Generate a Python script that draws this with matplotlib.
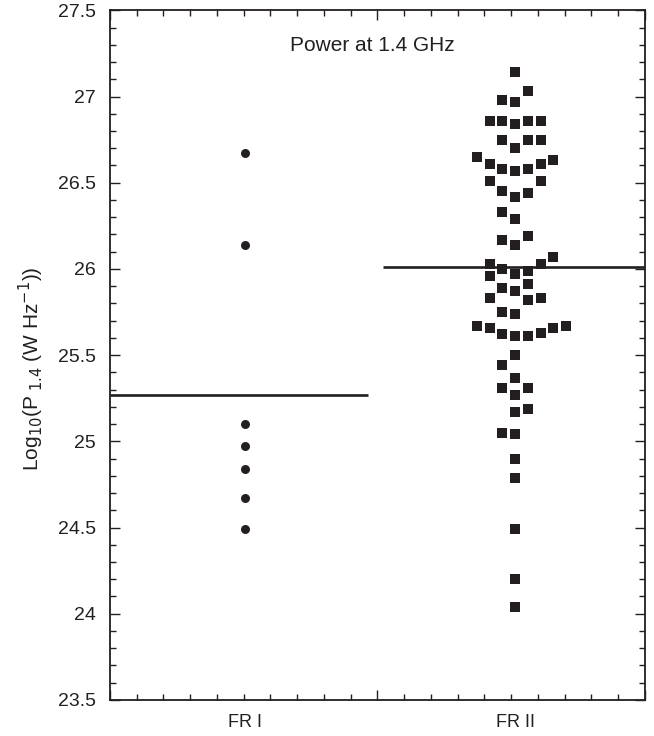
import numpy as np
import matplotlib
matplotlib.use("Agg")
import matplotlib.pyplot as plt
from matplotlib.ticker import MultipleLocator, FormatStrFormatter

plt.rcParams['font.family'] = ['Liberation Sans', 'DejaVu Sans']

ink = '#231f20'

# data
categories = ['FR I', 'FR II']
cat_pos = [0.505, 1.515]

fr1_power = [26.67, 26.14, 25.10, 24.97, 24.84, 24.67, 24.49]

# FR II values with their swarm column (0 = centre column)
fr2_power = [27.14, 27.03, 26.98, 26.97,
             26.86, 26.86, 26.84, 26.86, 26.86,
             26.75, 26.75, 26.75, 26.70,
             26.65, 26.63,
             26.61, 26.58, 26.57, 26.58, 26.61,
             26.51, 26.51,
             26.45, 26.42, 26.44,
             26.33, 26.29,
             26.17, 26.14, 26.19,
             26.07,
             26.03, 26.03,
             26.00, 25.99, 25.97, 25.96,
             25.89, 25.91, 25.87,
             25.83, 25.82, 25.83,
             25.75, 25.74,
             25.67, 25.66, 25.62, 25.61, 25.61, 25.63, 25.66, 25.67,
             25.50, 25.44, 25.37,
             25.31, 25.31, 25.27,
             25.19, 25.17,
             25.05, 25.04,
             24.90, 24.79, 24.49, 24.20, 24.04]
fr2_col = [0, 1, -1, 0,
           -2, -1, 0, 1, 2,
           -1, 1, 2, 0,
           -3, 3,
           -2, -1, 0, 1, 2,
           -2, 2,
           -1, 0, 1,
           -1, 0,
           -1, 0, 1,
           3,
           -2, 2,
           -1, 1, 0, -2,
           -1, 1, 0,
           -2, 1, 2,
           -1, 0,
           -3, -2, -1, 0, 1, 2, 3, 4,
           0, -1, 0,
           -1, 1, 0,
           1, 0,
           -1, 0,
           0, 0, 0, 0, 0]

mean_power = [25.27, 26.01]
mean_span = [(0.0, 0.965), (1.02, 2.0)]

fig = plt.figure(figsize=(6.54, 7.36), dpi=100)
ax = fig.add_axes([0.168, 0.049, 0.818, 0.937])

ax.scatter(np.full(len(fr1_power), cat_pos[0]), fr1_power, s=42, marker='o',
           color=ink, linewidths=0, zorder=3)

step = 0.0475
fr2_x = cat_pos[1] + step * np.array(fr2_col)
ax.scatter(fr2_x, fr2_power, s=60, marker='s', color=ink, linewidths=0, zorder=3)

for m, (x0, x1) in zip(mean_power, mean_span):
    ax.plot([x0, x1], [m, m], color=ink, lw=1.9, zorder=2, solid_capstyle='butt')

ax.set_xlim(0, 2)
ax.set_ylim(23.5, 27.5)

ax.xaxis.set_major_locator(MultipleLocator(1))
ax.xaxis.set_minor_locator(MultipleLocator(0.1))
ax.yaxis.set_major_locator(MultipleLocator(0.5))
ax.yaxis.set_minor_locator(MultipleLocator(0.1))
ax.yaxis.set_major_formatter(FormatStrFormatter('%g'))
ax.set_xticklabels([])

ax.tick_params(which='both', direction='in', top=True, right=True, color=ink,
               width=1.0)
ax.tick_params(which='major', length=7)
ax.tick_params(which='minor', length=4)
ax.tick_params(axis='y', which='major', pad=10, labelsize=14, labelcolor=ink)

for s in ax.spines.values():
    s.set_linewidth(1.3)
    s.set_color(ink)

for c, x in zip(categories, cat_pos):
    ax.text(x, -0.02, c, transform=ax.get_xaxis_transform(), ha='center',
            va='top', fontsize=13, color=ink)

ax.text(0.49, 0.949, 'Power at 1.4 GHz', transform=ax.transAxes, ha='center',
        va='center', fontsize=15, color=ink)

ax.set_ylabel(r'Log$_{10}$(P$_{\ 1.4}$ (W Hz$^{-1}$))', fontsize=15, color=ink)
ax.yaxis.set_label_coords(-0.12, 0.48)

fig.savefig('out.png', dpi=100)
